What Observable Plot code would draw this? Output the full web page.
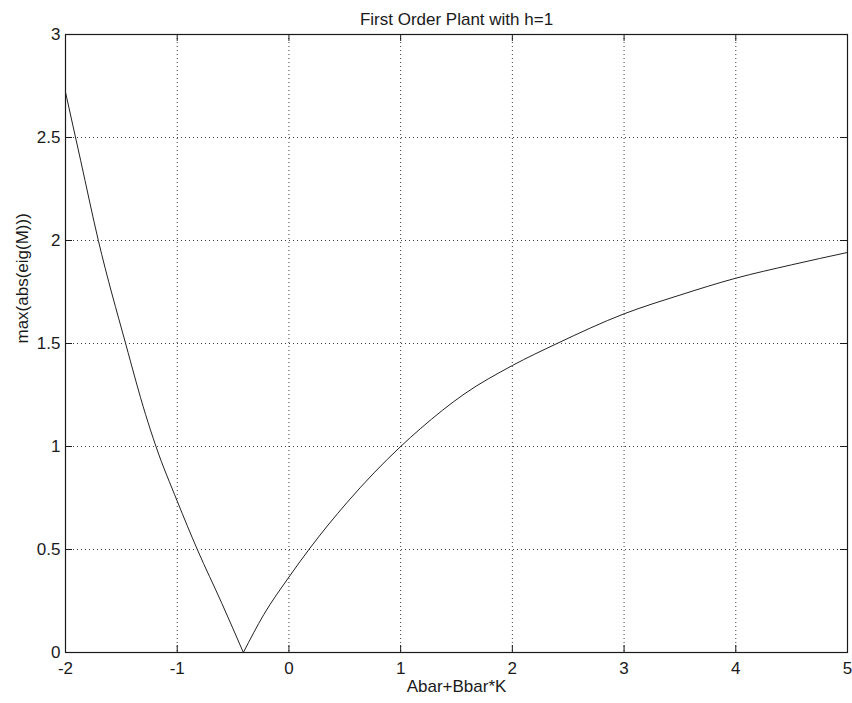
<!DOCTYPE html>
<html>
<head>
<meta charset="utf-8">
<script src="https://cdn.jsdelivr.net/npm/d3@7"></script>
<script src="https://cdn.jsdelivr.net/npm/@observablehq/plot@0.6"></script>
<style>
  html, body { margin: 0; padding: 0; background: #fff; }
</style>
</head>
<body>
<div id="chart"></div>
<script>
const titleText = "First Order Plant with h=1";
const xLabel = "Abar+Bbar*K";
const yLabel = "max(abs(eig(M)))";
const xTicks = [-2, -1, 0, 1, 2, 3, 4, 5];
const yTicks = [0, 0.5, 1, 1.5, 2, 2.5, 3];

// left branch
const leftX = [-2.0, -1.865, -1.706, -1.462, -1.283, -1.19, -1.0, -0.82, -0.6, -0.408];
const leftY = [2.72, 2.39, 2.0, 1.5, 1.155, 1.0, 0.735, 0.5, 0.238, 0.0];
// right branch
const rightX = [-0.408, -0.224, 0.0, 0.179, 0.523, 1.0, 1.18, 1.567, 2.0, 2.4, 3.0, 3.5, 4.0, 4.5, 5.0];
const rightY = [0.0, 0.185, 0.366, 0.5, 0.73, 1.0, 1.088, 1.254, 1.393, 1.5, 1.644, 1.735, 1.817, 1.882, 1.942];

const left = leftX.map((x, i) => ({x, y: leftY[i]}));
const right = rightX.map((x, i) => ({x, y: rightY[i]}));

const W = 852, H = 703;
const mL = 65, mR = 5, mT = 34, mB = 51;
const fw = W - mL - mR, fh = H - mT - mB;
const tickLen = 7;
const ink = "#1a1a1a";

const chart = Plot.plot({
  width: W,
  height: H,
  marginLeft: mL,
  marginRight: mR,
  marginTop: mT,
  marginBottom: mB,
  style: {fontFamily: "'Liberation Sans', Arial, sans-serif", fontSize: "17px", background: "#fff", color: ink},
  x: {domain: [-2, 5], ticks: xTicks},
  y: {domain: [0, 3], ticks: yTicks},
  marks: [
    Plot.gridX(xTicks, {stroke: ink, strokeOpacity: 0.85, strokeWidth: 1, strokeDasharray: "1,3"}),
    Plot.gridY(yTicks, {stroke: ink, strokeOpacity: 0.85, strokeWidth: 1, strokeDasharray: "1,3"}),
    Plot.tickX(xTicks, {x: d => d, insetTop: fh - tickLen, stroke: ink}),
    Plot.tickX(xTicks, {x: d => d, insetBottom: fh - tickLen, stroke: ink}),
    Plot.tickY(yTicks, {y: d => d, insetRight: fw - tickLen, stroke: ink}),
    Plot.tickY(yTicks, {y: d => d, insetLeft: fw - tickLen, stroke: ink}),
    Plot.axisX(xTicks, {tickSize: 0, tickPadding: 9, fontSize: 17, label: null, tickFormat: d => String(d).replace("−", "-")}),
    Plot.axisY(yTicks, {tickSize: 0, tickPadding: 5, fontSize: 17, label: null, tickFormat: d => String(d)}),
    Plot.frame({stroke: ink, strokeWidth: 1.2}),
    Plot.line(left, {x: "x", y: "y", curve: "monotone-x", stroke: "#222", strokeWidth: 1}),
    Plot.line(right, {x: "x", y: "y", curve: "monotone-x", stroke: "#222", strokeWidth: 1}),
    Plot.text([titleText], {frameAnchor: "top", dy: -22, fontSize: 17, fill: ink}),
    Plot.text([xLabel], {frameAnchor: "bottom", dy: 39, fontSize: 17, fill: ink}),
    Plot.text([yLabel], {frameAnchor: "left", dx: -43, rotate: -90, fontSize: 17, fill: ink})
  ]
});
document.getElementById("chart").appendChild(chart);
</script>
</body>
</html>
